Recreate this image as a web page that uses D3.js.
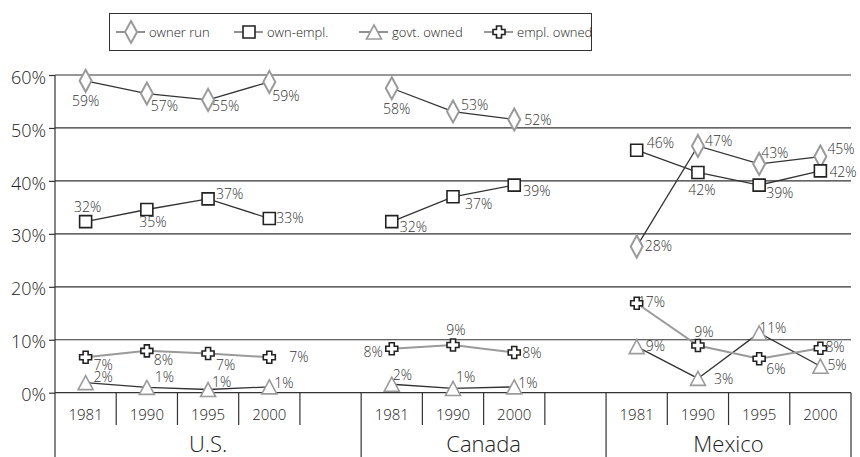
<!DOCTYPE html>
<html lang="en">
<head>
<meta charset="utf-8">
<script src="https://cdn.jsdelivr.net/npm/d3@7"></script>
<style>
  body { margin: 0; background: #fff; }
  svg text { font-family: "Open Sans", Lato, sans-serif; font-weight: 300; fill: #222; }
</style>
</head>
<body>
<script>
// categories: three country groups, each with its survey years ("" = empty slot)
const groups = ["U.S.", "Canada", "Mexico"];
const groupYears = [
  ["1981", "1990", "1995", "2000", ""],
  ["1981", "1990", "2000", ""],
  ["1981", "1990", "1995", "2000"]
];

// series values (percent), one per slot, null where there is no year
const ownerRun  = [58.9, 56.5, 55.3, 58.7, null, 57.5, 53.1, 51.6, null, 27.6, 46.6, 43.2, 44.6];
const ownEmpl   = [32.3, 34.6, 36.6, 32.9, null, 32.3, 37.0, 39.2, null, 45.8, 41.6, 39.2, 41.9];
const govtOwned = [1.9, 1.0, 0.6, 1.1, null, 1.6, 0.8, 1.1, null, 8.7, 2.7, 11.3, 5.0];
const emplOwned = [6.7, 7.9, 7.4, 6.7, null, 8.3, 9.0, 7.6, null, 16.9, 8.9, 6.4, 8.4];

const seriesNames = ["owner run", "own-empl.", "govt. owned", "empl. owned"];
const yTicks = [0, 10, 20, 30, 40, 50, 60];

// label placement next to each point: [dx, dy, anchor]
const ownerRunLbl = [[0,25,"middle"],[4,17,"start"],[4,11,"start"],[3,19,"start"],null,
  [5,26,"middle"],[8,-2,"start"],[10,6,"start"],null,[8,4,"start"],[7,0,"start"],[2,-6,"start"],[7,-3,"start"]];
const ownEmplLbl = [[2,-10,"middle"],[6,18,"middle"],[8,0,"start"],[7,5,"start"],null,
  [8,10,"start"],[12,12,"start"],[9,11,"start"],null,[10,-2,"start"],[4,23,"middle"],[7,13,"start"],[9,6,"start"]];
const govtOwnedLbl = [[8,-1,"start"],[8,-5,"start"],[4,-3,"start"],[5,1,"start"],null,
  [1,-4,"start"],[3,-6,"start"],[4,1,"start"],null,[9,4,"start"],[16,6,"start"],[0,0,"start"],[7,4,"start"]];
const emplOwnedLbl = [[8,13,"start"],[7,14,"start"],[8,16,"start"],[20,5,"start"],null,
  [-9,8,"end"],[3,-10,"middle"],[8,6,"start"],null,[1,4,"start"],[6,-9,"middle"],[7,15,"start"],[5,4,"start"]];

const W = 860, H = 457;
const left = 55, right = 851, y0 = 392.7, yTop = 75;

const slots = [];
groups.forEach((g, gi) => groupYears[gi].forEach((yr, k) => slots.push({ key: gi + "-" + k, group: gi, year: yr })));

const x = d3.scaleBand().domain(slots.map(d => d.key)).range([left, right]);
const y = d3.scaleLinear().domain([0, 60]).range([y0, yTop]);

const svg = d3.select("body").append("svg").attr("width", W).attr("height", H);

// gridlines + y axis
const yAxis = d3.axisLeft(y).tickValues(yTicks).tickSize(6).tickFormat(d => d + "%");
const ga = svg.append("g").attr("transform", "translate(" + left + ",0)").call(yAxis);
ga.select(".domain").remove();
ga.selectAll("line").attr("stroke", "#333").attr("stroke-width", 1.2);
ga.selectAll("text").attr("x", -9).attr("dy", "0.45em").style("font-size", "18px").style("font-family", null);

svg.append("g").selectAll("line").data(yTicks).join("line")
  .attr("x1", left).attr("x2", right)
  .attr("y1", d => y(d)).attr("y2", d => y(d))
  .attr("stroke", "#333").attr("stroke-width", 1.2);

svg.append("line").attr("x1", left).attr("x2", left).attr("y1", yTop).attr("y2", H)
  .attr("stroke", "#333").attr("stroke-width", 1.2);

// category axis: year separators and group separators
const xa = svg.append("g");
slots.forEach((s, i) => {
  const xs = x(s.key);
  const first = i === 0 || slots[i - 1].group !== s.group;
  if (!first) {
    xa.append("line").attr("x1", xs).attr("x2", xs).attr("y1", y0).attr("y2", 425)
      .attr("stroke", "#333").attr("stroke-width", 1.2);
  } else if (i > 0) {
    xa.append("line").attr("x1", xs).attr("x2", xs).attr("y1", y0).attr("y2", H)
      .attr("stroke", "#333").attr("stroke-width", 1.2);
  }
  if (s.year) {
    xa.append("text").attr("x", xs + x.bandwidth() / 2).attr("y", 420)
      .attr("text-anchor", "middle").style("font-size", "15px").text(s.year);
  }
});
xa.append("line").attr("x1", right).attr("x2", right).attr("y1", y0).attr("y2", H)
  .attr("stroke", "#333").attr("stroke-width", 1.2);
groups.forEach((g, gi) => {
  const ks = slots.filter(s => s.group === gi);
  const x1 = x(ks[0].key), x2 = x(ks[ks.length - 1].key) + x.bandwidth();
  xa.append("text").attr("x", (x1 + x2) / 2).attr("y", 452)
    .attr("text-anchor", "middle").style("font-size", "22px").text(g);
});

// marker shapes
const shapes = {
  diamond: "M0,-11L6,0L0,11L-6,0Z",
  square: "M-6,-6H6V6H-6Z",
  triangle: "M0,-7L7.5,7H-7.5Z",
  cross: "M-2.5,-6H2.5V-2.5H6V2.5H2.5V6H-2.5V2.5H-6V-2.5H-2.5Z"
};

const series = [
  { name: seriesNames[0], values: ownerRun, lbl: ownerRunLbl, shape: "diamond", mStroke: "#9a9a9a", mWidth: 2, line: "#333", lWidth: 1.3 },
  { name: seriesNames[1], values: ownEmpl, lbl: ownEmplLbl, shape: "square", mStroke: "#222", mWidth: 1.6, line: "#333", lWidth: 1.3 },
  { name: seriesNames[2], values: govtOwned, lbl: govtOwnedLbl, shape: "triangle", mStroke: "#9a9a9a", mWidth: 1.6, line: "#333", lWidth: 1.3 },
  { name: seriesNames[3], values: emplOwned, lbl: emplOwnedLbl, shape: "cross", mStroke: "#222", mWidth: 1.6, line: "#9a9a9a", lWidth: 2 }
];

const line = d3.line()
  .defined(d => d.v !== null)
  .x(d => x(d.key) + x.bandwidth() / 2)
  .y(d => y(d.v));

series.forEach(s => {
  const pts = slots.map((sl, i) => ({ key: sl.key, v: s.values[i], group: sl.group, lbl: s.lbl[i] }));
  groups.forEach((g, gi) => {
    svg.append("path").datum(pts.filter(p => p.group === gi))
      .attr("d", line).attr("fill", "none")
      .attr("stroke", s.line).attr("stroke-width", s.lWidth);
  });
  s.pts = pts.filter(p => p.v !== null);
});

series.forEach(s => {
  const g = svg.append("g");
  g.selectAll("text").data(s.pts).join("text")
    .attr("x", d => x(d.key) + x.bandwidth() / 2 + d.lbl[0])
    .attr("y", d => y(d.v) + d.lbl[1])
    .attr("text-anchor", d => d.lbl[2])
    .style("font-size", "14px").style("fill", "#333")
    .text(d => Math.round(d.v) + "%");
  g.selectAll("path").data(s.pts).join("path")
    .attr("transform", d => "translate(" + (x(d.key) + x.bandwidth() / 2) + "," + y(d.v) + ")")
    .attr("d", shapes[s.shape])
    .attr("fill", "#fff").attr("stroke", s.mStroke).attr("stroke-width", s.mWidth);
});

// legend
const leg = svg.append("g");
leg.append("rect").attr("x", 109.5).attr("y", 13.5).attr("width", 482).attr("height", 37)
  .attr("fill", "#fff").attr("stroke", "#333").attr("stroke-width", 1);
const legX = [131, 249, 374, 499];
series.forEach((s, i) => {
  const cx = legX[i], cy = 32;
  leg.append("line").attr("x1", cx - 15).attr("x2", cx + 14).attr("y1", cy).attr("y2", cy)
    .attr("stroke", s.line === "#333" ? "#555" : s.line).attr("stroke-width", s.lWidth);
  leg.append("path").attr("transform", "translate(" + cx + "," + cy + ")")
    .attr("d", shapes[s.shape]).attr("fill", "#fff")
    .attr("stroke", s.mStroke).attr("stroke-width", s.mWidth);
  leg.append("text").attr("x", cx + 18).attr("y", cy + 5)
    .style("font-size", "13px").text(s.name);
});
</script>
</body>
</html>
